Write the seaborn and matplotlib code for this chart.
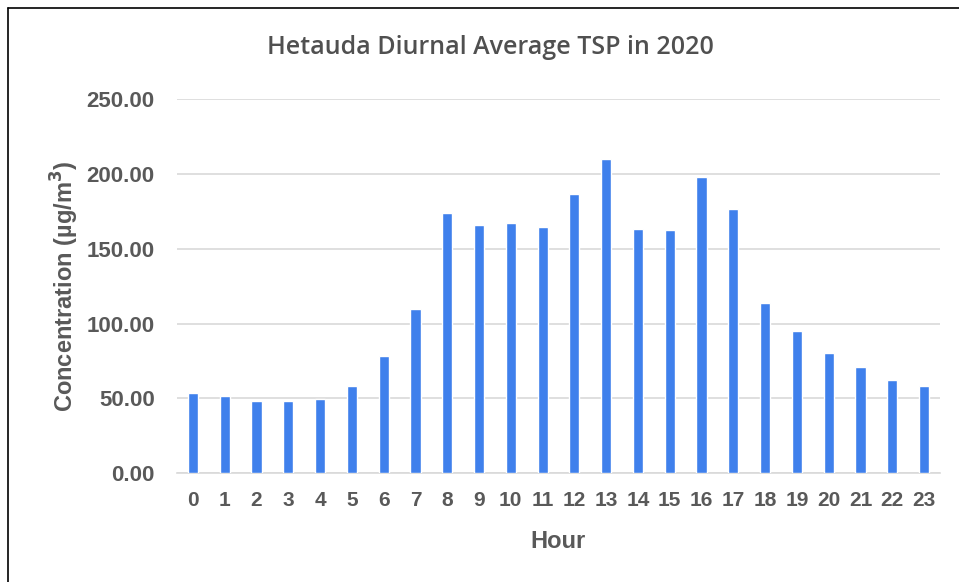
import matplotlib
matplotlib.use("Agg")
import matplotlib.pyplot as plt
import seaborn as sns
import pandas as pd
from matplotlib.lines import Line2D

hours = list(range(24))
tsp = [53.5, 51.7, 48.5, 47.9, 49.7, 58.4, 78.6, 109.6, 173.8, 166.0, 167.5, 164.4,
       186.5, 210.0, 163.3, 162.6, 197.9, 176.5, 113.6, 94.9, 80.2, 70.9, 62.2, 57.9]
yticks = [0, 50, 100, 150, 200, 250]
ytick_labels = ["0.00", "50.00", "100.00", "150.00", "200.00", "250.00"]

title = "Hetauda Diurnal Average TSP in 2020"
xlabel = "Hour"
ylabel = "Concentration (µg/m$^3$)"

df = pd.DataFrame({"Hour": [str(h) for h in hours], "TSP": tsp})

sns.set_theme(style="white")
plt.rcParams["font.family"] = ["Liberation Sans", "DejaVu Sans"]
plt.rcParams["mathtext.default"] = "bf"

fig = plt.figure(figsize=(9.59, 5.82), dpi=100)
ax = fig.add_axes([177 / 959, 1 - 473 / 582, (940 - 177) / 959, (473 - 99.3) / 582])

sns.barplot(data=df, x="Hour", y="TSP", order=[str(h) for h in hours],
            color="#3f80ec", saturation=1, width=0.32, ax=ax, zorder=3)

ax.set_ylim(0, 250)
ax.set_xlim(-0.5, 23.5)
ax.set_yticks(yticks)
ax.set_yticklabels(ytick_labels, fontweight="bold", fontsize=16, color="#595959")
ax.yaxis.grid(True, color="#d9d9d9", linewidth=1.2, zorder=0)
ax.xaxis.grid(False)
for s in ["top", "right", "left"]:
    ax.spines[s].set_visible(False)
ax.spines["bottom"].set_color("#d9d9d9")
ax.spines["bottom"].set_linewidth(1.2)
ax.tick_params(axis="y", length=0, pad=16)
ax.tick_params(axis="x", length=0, pad=13)
for lab in ax.get_xticklabels():
    lab.set_fontsize(15)
    lab.set_color("#595959")
    lab.set_fontweight("bold")

ax.set_xlabel(xlabel, fontsize=17, fontweight="bold", color="#595959", labelpad=14)
ax.set_ylabel(ylabel, fontsize=17, fontweight="bold", color="#595959", labelpad=4)
fig.text(490 / 959, 1 - 48 / 582, title, ha="center", va="center", fontsize=18,
         color="#505050", fontweight="semibold", fontfamily=["Open Sans", "DejaVu Sans"])

# screenshot frame lines (top and left)
fig.add_artist(Line2D([8 / 959, 1.0], [1 - 8 / 582, 1 - 8 / 582], color="black", linewidth=1.2,
                      transform=fig.transFigure))
fig.add_artist(Line2D([8 / 959, 8 / 959], [0, 1 - 8 / 582], color="black", linewidth=1.2,
                      transform=fig.transFigure))

fig.savefig("out.png", dpi=100)
